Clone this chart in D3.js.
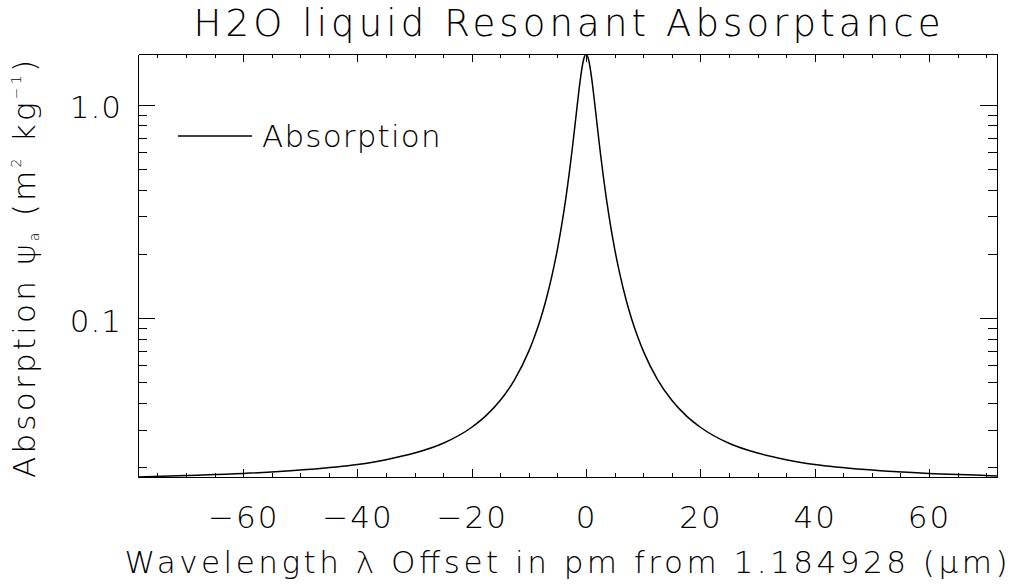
<!DOCTYPE html>
<html>
<head>
<meta charset="utf-8">
<script src="https://cdn.jsdelivr.net/npm/d3@7"></script>
<style>
  body { margin: 0; background: #fff; }
  svg text { font-family: "DejaVu Sans", sans-serif; font-weight: 200; fill: #000; }
  .axis path, .axis line { stroke: #000; stroke-width: 1; shape-rendering: crispEdges; }
</style>
</head>
<body>
<div id="chart"></div>
<script>
// wavelength offset (pm) and absorption (m^2 kg^-1)
const offsets = [-78.4, -70, -60, -50, -40, -35, -30, -25, -20, -17.5, -15, -12.5, -10, -9, -8, -7, -6, -5, -4, -3.5, -3, -2.5, -2, -1.5, -1, -0.5,
  0, 0.5, 1, 1.5, 2, 2.5, 3, 3.5, 4, 5, 6, 7, 8, 9, 10, 12.5, 15, 17.5, 20, 25, 30, 35, 40, 50, 60, 70, 71.9];
const absorption = [0.0180, 0.0183, 0.0187, 0.0194, 0.0206, 0.0217, 0.0233, 0.0259, 0.0308, 0.0349, 0.0412, 0.0515, 0.0702, 0.0822, 0.0986, 0.122, 0.157, 0.211, 0.302, 0.371, 0.466, 0.596, 0.777, 1.02, 1.32, 1.60,
  1.73, 1.60, 1.32, 1.02, 0.777, 0.596, 0.466, 0.371, 0.302, 0.211, 0.157, 0.122, 0.0986, 0.0822, 0.0702, 0.0515, 0.0412, 0.0349, 0.0308, 0.0259, 0.0233, 0.0217, 0.0206, 0.0194, 0.0187, 0.0183, 0.0182];

const xMajor = [-60, -40, -20, 0, 20, 40, 60];
const xMinor = [-75, -70, -65, -55, -50, -45, -35, -30, -25, -15, -10, -5, 5, 10, 15, 25, 30, 35, 45, 50, 55, 65, 70];
const yMajor = [0.1, 1.0];
const yMinor = [0.02, 0.03, 0.04, 0.05, 0.06, 0.07, 0.08, 0.09, 0.2, 0.3, 0.4, 0.5, 0.6, 0.7, 0.8, 0.9];

const width = 1014, height = 586;
const margin = { top: 54, right: 17, bottom: 109, left: 138 };
const fontSize = 31;

const data = offsets.map((d, i) => ({ x: d, y: absorption[i] }));

const svg = d3.select("#chart").append("svg")
  .attr("width", width)
  .attr("height", height);

const x = d3.scaleLinear()
  .domain(d3.extent(offsets))
  .range([margin.left, width - margin.right]);

const y = d3.scaleLog()
  .domain(d3.extent(absorption))
  .range([height - margin.bottom, margin.top]);

const minus = d => (d < 0 ? "\u2212" + Math.abs(d) : "" + d);

// x axes (bottom with labels, top mirrored)
svg.append("g").attr("class", "axis")
  .attr("transform", `translate(0,${height - margin.bottom})`)
  .call(d3.axisBottom(x).tickValues(xMinor).tickSize(-4).tickSizeOuter(0).tickFormat(""));
svg.append("g").attr("class", "axis x-major")
  .attr("transform", `translate(0,${height - margin.bottom})`)
  .call(d3.axisBottom(x).tickValues(xMajor).tickSize(-8).tickSizeOuter(0).tickPadding(29).tickFormat(minus));
svg.append("g").attr("class", "axis")
  .attr("transform", `translate(0,${margin.top})`)
  .call(d3.axisTop(x).tickValues(xMinor).tickSize(-4).tickSizeOuter(0).tickFormat(""));
svg.append("g").attr("class", "axis")
  .attr("transform", `translate(0,${margin.top})`)
  .call(d3.axisTop(x).tickValues(xMajor).tickSize(-8).tickSizeOuter(0).tickFormat(""));

// y axes (left with labels, right mirrored)
svg.append("g").attr("class", "axis")
  .attr("transform", `translate(${margin.left},0)`)
  .call(d3.axisLeft(y).tickValues(yMinor).tickSize(-9).tickSizeOuter(0).tickFormat(""));
svg.append("g").attr("class", "axis y-major")
  .attr("transform", `translate(${margin.left},0)`)
  .call(d3.axisLeft(y).tickValues(yMajor).tickSize(-17).tickSizeOuter(0).tickPadding(16).tickFormat(d3.format(".1f")));
svg.append("g").attr("class", "axis")
  .attr("transform", `translate(${width - margin.right},0)`)
  .call(d3.axisRight(y).tickValues(yMinor).tickSize(-9).tickSizeOuter(0).tickFormat(""));
svg.append("g").attr("class", "axis")
  .attr("transform", `translate(${width - margin.right},0)`)
  .call(d3.axisRight(y).tickValues(yMajor).tickSize(-17).tickSizeOuter(0).tickFormat(""));

svg.selectAll(".axis text")
  .style("font-family", "\"DejaVu Sans\", sans-serif")
  .style("font-weight", 200)
  .style("font-size", fontSize + "px")
  .attr("fill", "#000");
svg.selectAll(".x-major text").style("letter-spacing", "2px");
svg.selectAll(".y-major text").attr("dy", "0.42em").style("letter-spacing", "1px");

// curve
svg.append("clipPath").attr("id", "plot-clip")
  .append("rect")
  .attr("x", margin.left).attr("y", margin.top)
  .attr("width", width - margin.left - margin.right)
  .attr("height", height - margin.top - margin.bottom);

svg.append("path")
  .datum(data)
  .attr("clip-path", "url(#plot-clip)")
  .attr("fill", "none")
  .attr("stroke", "#000")
  .attr("stroke-width", 1.5)
  .attr("d", d3.line().x(d => x(d.x)).y(d => y(d.y)).curve(d3.curveMonotoneX));

// legend
svg.append("line")
  .attr("x1", 178).attr("x2", 252)
  .attr("y1", 136).attr("y2", 136)
  .attr("stroke", "#000").attr("stroke-width", 1.5);
svg.append("text")
  .attr("x", 262).attr("y", 147)
  .style("font-size", fontSize + "px")
  .style("letter-spacing", "1.2px")
  .text("Absorption");

// title
svg.append("text")
  .attr("x", 567).attr("y", 36)
  .attr("text-anchor", "middle")
  .attr("textLength", 747)
  .attr("lengthAdjust", "spacing")
  .style("font-size", "37px")
  .text("H2O liquid Resonant Absorptance");

// x label
svg.append("text")
  .attr("x", 566).attr("y", 573)
  .attr("text-anchor", "middle")
  .attr("textLength", 883)
  .attr("lengthAdjust", "spacing")
  .style("font-size", fontSize + "px")
  .text("Wavelength \u03bb Offset in pm from 1.184928 (\u03bcm)");

// y label
const yl = svg.append("text")
  .attr("transform", `translate(35,${269}) rotate(-90)`)
  .attr("text-anchor", "middle")
  .attr("textLength", 418)
  .attr("lengthAdjust", "spacing")
  .style("font-size", fontSize + "px");
yl.append("tspan").text("Absorption \u03c8");
yl.append("tspan").style("font-size", "14px").attr("dy", 4).text("a");
yl.append("tspan").attr("dy", -4).text(" (m");
yl.append("tspan").style("font-size", "14px").attr("dy", -14).text("2");
yl.append("tspan").attr("dy", 14).text(" kg");
yl.append("tspan").style("font-size", "14px").attr("dy", -14).text("\u22121");
yl.append("tspan").attr("dy", 14).text(")");
</script>
</body>
</html>
